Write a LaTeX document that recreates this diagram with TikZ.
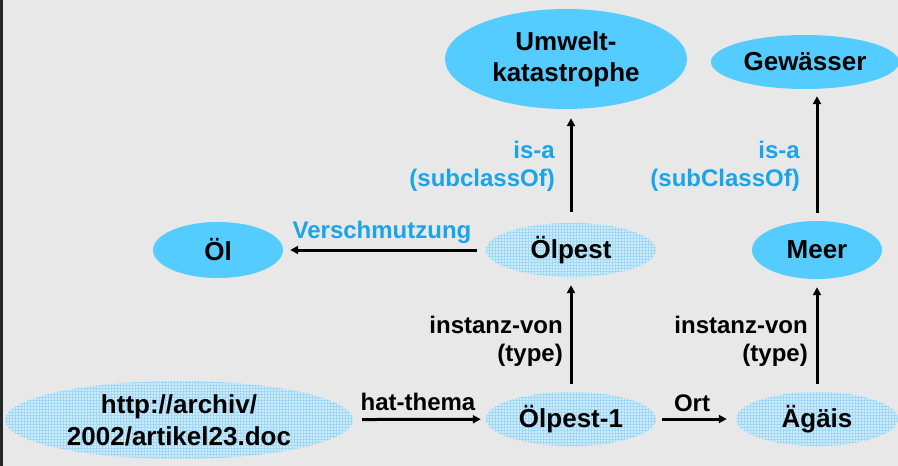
\documentclass[tikz,border=0pt]{standalone}
\usepackage{fontspec}
\setmainfont{Liberation Sans}
\usetikzlibrary{shapes.geometric,arrows.meta,patterns}
\definecolor{bg}{RGB}{232,232,232}
\definecolor{solidblue}{RGB}{85,204,255}
\definecolor{hatchbg}{RGB}{205,235,250}
\definecolor{hatchln}{RGB}{160,216,245}
\definecolor{lbl}{RGB}{25,165,232}
\begin{document}
\begin{tikzpicture}[x=1pt,y=-1pt,
 nodefont/.style={font=\fontsize{26}{30}\selectfont\bfseries},
 solidell/.style={ellipse, fill=solidblue, inner sep=0pt},
 hatchell/.style={ellipse, preaction={fill=hatchbg}, pattern=grid, pattern color=hatchln, inner sep=0pt},
 arr/.style={line width=3pt, -{Triangle[length=8pt,width=8pt]}},
 elab/.style={font=\fontsize{24}{28}\selectfont\bfseries, align=right, inner sep=0pt},
]
\fill[bg] (0,0) rectangle (898,466);
\useasboundingbox (0,0) rectangle (898,466);
\fill[black!85] (0,0) rectangle (2.5,466);

% nodes
\node[solidell, minimum width=242pt, minimum height=100pt,
  label={[nodefont, align=center]center:Umwelt-\\[1pt]katastrophe}] (uk) at (566,59) {};
\node[solidell, minimum width=188pt, minimum height=54pt,
  label={[nodefont]center:Gewässer}] (gew) at (805,62) {};
\node[hatchell, minimum width=170pt, minimum height=54pt,
  label={[nodefont]center:Ölpest}] (olpest) at (571,250) {};
\node[solidell, minimum width=130pt, minimum height=58pt,
  label={[nodefont]center:Meer}] (meer) at (817,250) {};
\node[solidell, minimum width=130pt, minimum height=56pt,
  label={[nodefont]center:Öl}] (ol) at (218,250) {};
\node[hatchell, minimum width=348pt, minimum height=78pt,
  label={[nodefont, align=center]center:http://archiv/\\[2pt]2002/artikel23.doc}] (http) at (179,420) {};
\node[hatchell, minimum width=170pt, minimum height=54pt,
  label={[nodefont]center:Ölpest-1}] (olp1) at (571,419) {};
\node[hatchell, minimum width=162pt, minimum height=54pt,
  label={[nodefont]center:Ägäis}] (agais) at (817,419) {};

% connectors
\draw[arr, shorten <=8pt, shorten >=8pt] (olp1) -- (olpest);
\draw[arr, shorten <=8pt, shorten >=8pt] (agais) -- (meer);
\draw[arr, shorten <=11pt, shorten >=9pt] (olpest.north) -- (olpest.north |- uk.south);
\draw[arr, shorten <=8pt, shorten >=7pt] (meer.north) -- (meer.north |- gew.south);
\draw[arr, shorten <=9pt, shorten >=7pt] (olpest) -- (ol);
\draw[arr, shorten <=9pt, shorten >=5pt] (http) -- (olp1);
\draw[arr, shorten <=6pt, shorten >=9pt] (olp1) -- (agais);

% edge labels
\node[elab, text=lbl, anchor=east] (isa1) at (555,166) {is-a\\(subclassOf)};
\node[elab, text=lbl, anchor=east] (isa2) at (800,166) {is-a\\(subClassOf)};
\node[elab, anchor=east] (inst1) at (563,341) {instanz-von\\(type)};
\node[elab, anchor=east] (inst2) at (808,341) {instanz-von\\(type)};
\node[elab, text=lbl] (versch) at (382,232) {Verschmutzung};
\node[elab] (hat) at (418,402) {hat-thema};
\node[elab] (ort) at (692,403) {Ort};
\end{tikzpicture}
\end{document}
